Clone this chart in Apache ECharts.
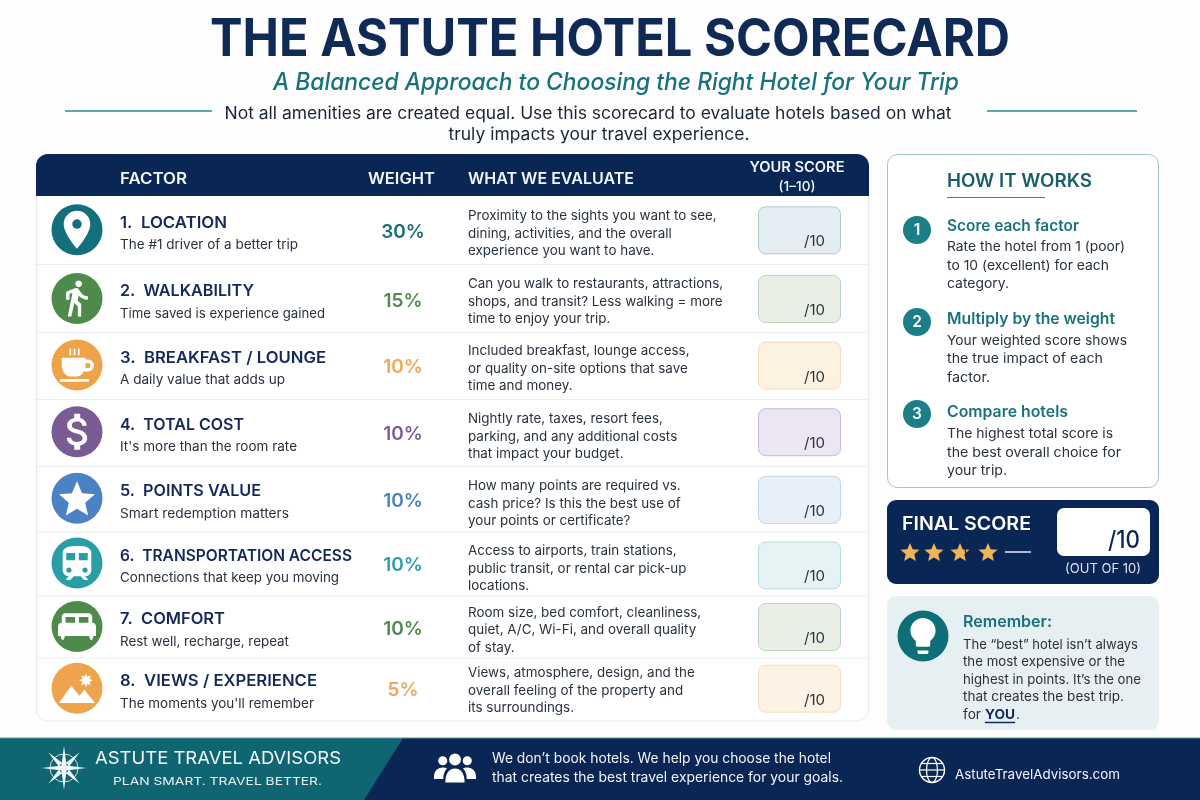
<!DOCTYPE html>
<html><head><meta charset="utf-8">
<style>html,body{margin:0;padding:0;background:#fdfdfe}#c{width:1200px;height:800px}</style>
<script src="https://cdn.jsdelivr.net/npm/echarts@6/dist/echarts.min.js"></script>
</head><body><div id="c"></div>
<script>
// ---------- content ----------
const factorNames = ['1.  LOCATION','2.  WALKABILITY','3.  BREAKFAST / LOUNGE','4.  TOTAL COST','5.  POINTS VALUE','6.  TRANSPORTATION ACCESS','7.  COMFORT','8.  VIEWS / EXPERIENCE'];
const factorNotes = ['The #1 driver of a better trip','Time saved is experience gained','A daily value that adds up',"It's more than the room rate",'Smart redemption matters','Connections that keep you moving','Rest well, recharge, repeat',"The moments you'll remember"];
const weights = [30,15,10,10,10,10,10,5];
const evaluateText = [
 ['Proximity to the sights you want to see,','dining, activities, and the overall','experience you want to have.'],
 ['Can you walk to restaurants, attractions,','shops, and transit? Less walking = more','time to enjoy your trip.'],
 ['Included breakfast, lounge access,','or quality on-site options that save','time and money.'],
 ['Nightly rate, taxes, resort fees,','parking, and any additional costs','that impact your budget.'],
 ['How many points are required vs.','cash price? Is this the best use of','your points or certificate?'],
 ['Access to airports, train stations,','public transit, or rental car pick-up','locations.'],
 ['Room size, bed comfort, cleanliness,','quiet, A/C, Wi-Fi, and overall quality','of stay.'],
 ['Views, atmosphere, design, and the','overall feeling of the property and','its surroundings.']];
const steps = [
 {h:'Score each factor',l:['Rate the hotel from 1 (poor)','to 10 (excellent) for each','category.']},
 {h:'Multiply by the weight',l:['Your weighted score shows','the true impact of each','factor.']},
 {h:'Compare hotels',l:['The highest total score is','the best overall choice for','your trip.']}];
const rememberLines = ['The “best” hotel isn’t always','the most expensive or the','highest in points. It’s the one','that creates the best trip.'];

// ---------- styling / layout (not data) ----------
const FF = 'Inter', NAVY='#0a2655', INK='#14295a', TEAL='#17727c', BODY='#28313e';
const rowColors = ['#146f7c','#4d8a4c','#eea349','#7a5c94','#4a82c4','#2a9ea6','#4d8a4c','#eda44c'];
const weightColors = ['#1a6b78','#4f8a4e','#f0a95a','#7a5f96','#4a82bd','#2f9fa8','#4f8a4e','#e9a95c'];
const boxFill = ['#e4eef2','#e8f0e6','#fdf2e1','#ebe6f1','#e8eff8','#e6f3f4','#e8f0e6','#fdf2e3'];
const boxLine = ['#a9c9d0','#bcd3bb','#f1dcbb','#c7bbd6','#c3d5e9','#b7dcdf','#bcd3bb','#f2dfc2'];
const rowNudge = [1,4,5,6,7,6,4,0];
const evalNudge = [0.5,0,0,1.5,2,2.5,0,-1];
const boxNudge = [0.5,0.5,0.5,0.5,1.5,2.5,0.5,0.5];
const titleW = [107,134,206,124,141,232,105,197];
const noteW = [178,205,165,177,169,219,169,194];
const evalScale = 1.018;
const icons = {
 pin:'M12 2C8.13 2 5 5.13 5 9c0 5.25 7 13 7 13s7-7.75 7-13c0-3.87-3.13-7-7-7zm0 9.5a2.5 2.5 0 0 1 0-5 2.5 2.5 0 0 1 0 5z',
 walk:'M13.5 5.5c1.1 0 2-.9 2-2s-.9-2-2-2-2 .9-2 2 .9 2 2 2zM9.8 8.9L7 23h2.1l1.8-8 2.1 2v6h2v-7.5l-2.1-2 .6-3C14.8 12 16.8 13 19 13v-2c-1.9 0-3.5-1-4.3-2.4l-1-1.6c-.4-.6-1-1-1.7-1-.3 0-.5.1-.8.1L6 8.3V13h2V9.6l1.8-.7',
 cup:'M4 8h14v1h1.5a3 3 0 0 1 0 7H17c-1 2-2.6 3-4.5 3h-3C6.5 19 4 16 4 12zM18 11v3h1.4a1.5 1.5 0 0 0 0-3zM3 20.5h17V22H3zM8.5 2.5h1v4h-1zM11 2.5h1v4h-1zM13.5 2.5h1v4h-1z',
 dollar:'M11.8 10.9c-2.27-.59-3-1.2-3-2.15 0-1.09 1.01-1.85 2.7-1.85 1.78 0 2.44.85 2.5 2.1h2.21c-.07-1.72-1.12-3.3-3.21-3.81V3h-3v2.16c-1.94.42-3.5 1.68-3.5 3.61 0 2.31 1.91 3.46 4.7 4.13 2.5.6 3 1.48 3 2.41 0 .69-.49 1.79-2.7 1.79-2.06 0-2.87-.92-2.98-2.1h-2.2c.12 2.19 1.76 3.42 3.68 3.83V21h3v-2.15c1.95-.37 3.5-1.5 3.5-3.55 0-2.84-2.43-3.81-4.7-4.4z',
 star:'M12 17.27L18.18 21l-1.64-7.03L22 9.24l-7.19-.61L12 2 9.19 8.63 2 9.24l5.46 4.73L5.82 21z',
 train:'M12 2c-4 0-8 .5-8 4v9.5C4 17.43 5.57 19 7.5 19L6 20.5v.5h2.23l2-2H14l2 2h2v-.5L16.5 19c1.93 0 3.5-1.57 3.5-3.5V6c0-3.5-3.58-4-8-4zM7.5 17c-.83 0-1.5-.67-1.5-1.5S6.67 14 7.5 14s1.5.67 1.5 1.5S8.33 17 7.5 17zm3.5-7H6V6h5v4zm2 0V6h5v4h-5zm3.5 7c-.83 0-1.5-.67-1.5-1.5s.67-1.5 1.5-1.5 1.5.67 1.5 1.5-.67 1.5-1.5 1.5z',
 bed:'M20 10V7c0-1.1-.9-2-2-2H6c-1.1 0-2 .9-2 2v3c-1.1 0-2 .9-2 2v5h1.33L4 19h1l.67-2h12.67l.66 2h1l.67-2H22v-5c0-1.1-.9-2-2-2zm-9 0H6V7h5v3zm7 0h-5V7h5v3z',
 view:'M8.5 9.5L1 20h22l-6.5-8-3 3.6zM17.5 2l.8 2 2.1-.7-.7 2.1 2 .8-2 .8.7 2.1-2.1-.7-.8 2-.8-2-2.1.7.7-2.1-2-.8 2-.8-.7-2.1 2.1.7z',
 bulb:'M9 21c0 .55.45 1 1 1h4c.55 0 1-.45 1-1v-1H9v1zm3-19C8.14 2 5 5.14 5 9c0 2.38 1.19 4.47 3 5.74V17c0 .55.45 1 1 1h6c.55 0 1-.45 1-1v-2.26c1.81-1.27 3-3.36 3-5.74 0-3.86-3.14-7-7-7z',
 people:'M5 5a2.6 2.6 0 1 0 .01 0zM19 5a2.6 2.6 0 1 0 .01 0zM12 3.5a3.4 3.4 0 1 0 .01 0zM0 17c0-3.5 2-5.5 5-5.5 1 0 1.7.2 2.4.6C6 13.5 5.3 15.5 5.3 18H0zM24 17c0-3.5-2-5.5-5-5.5-1 0-1.7.2-2.4.6 1.4 1.4 2.1 3.4 2.1 5.9H24zM6.5 20c0-5 2-8 5.5-8s5.5 3 5.5 8z',
 compass:'M12 0l1.4 10.6L24 12l-10.6 1.4L12 24l-1.4-10.6L0 12l10.6-1.4zM3.5 3.5l7.5 5.6-1.9 1.9zM20.5 3.5l-5.6 7.5-1.9-1.9zM20.5 20.5l-7.5-5.6 1.9-1.9zM3.5 20.5l5.6-7.5 1.9 1.9z'
};
const rowIcons = [['pin',38,38],['walk',32,36],['cup',34,34],['dollar',36,36],['star',36,36],['train',32,34],['bed',38,38],['view',36,34]];

const mctx = document.createElement('canvas').getContext('2d');
function fitScale(text,size,weight,style,target){
  if(!target) return 1;
  mctx.font = `${style||'normal'} ${weight||400} ${size}px ${FF}`;
  return target/mctx.measureText(text).width;
}
function T(x,y,text,size,color,o){
  o=o||{};
  const sx = o.sx || fitScale(text,size,o.weight,o.style,o.w);
  return {type:'text',x,y:y+2,scaleX:sx,scaleY:1,silent:true,
    style:{text,fill:color,fontSize:size,fontWeight:o.weight||400,fontStyle:o.style||'normal',fontFamily:FF,
      align:o.align||'left',verticalAlign:'middle',textAlign:o.align||'left',textVerticalAlign:'middle'}};
}
function R(x,y,w,h,fill,o){o=o||{};return {type:'rect',silent:true,shape:{x,y,width:w,height:h,r:o.r||0},style:{fill,stroke:o.stroke,lineWidth:o.lw||1}};}
function C(cx,cy,r,fill){return {type:'circle',silent:true,shape:{cx,cy,r},style:{fill}};}
function L(x1,y1,x2,y2,stroke,lw){return {type:'line',silent:true,shape:{x1,y1,x2,y2},style:{stroke,lineWidth:lw||1}};}
function P(name,cx,cy,w,h,fill){return {type:'path',silent:true,shape:{pathData:icons[name],layout:'center',x:cx-w/2,y:cy-h/2,width:w,height:h},style:{fill}};}

// ---------- static panels ----------
const chrome = [], chromeIcons = [];
chrome.push(T(610,38,'THE ASTUTE HOTEL SCORECARD',52,'#0f2a55',{weight:700,align:'center',w:800}));
chrome.push(T(616,81,'A Balanced Approach to Choosing the Right Hotel for Your Trip',24,'#17727c',{style:'italic',weight:500,align:'center',w:686}));
chrome.push(L(65,111,212,111,'#2a8a92',1.5),L(987,111,1137,111,'#2a8a92',1.5));
chrome.push(T(588,112,'Not all amenities are created equal. Use this scorecard to evaluate hotels based on what',17,'#1a2533',{align:'center',w:727}));
chrome.push(T(599,133,'truly impacts your travel experience.',17,'#1a2533',{align:'center',w:301}));

// table card
chrome.push(R(36.5,154.5,832,566.5,'#ffffff',{r:12,stroke:'#e6e9ee'}));
chrome.push(R(36,154,833,42,NAVY,{r:[12,12,0,0]}));
chrome.push(T(120,177,'FACTOR',15.5,'#f3f6fa',{weight:600,w:67}));
chrome.push(T(368,177,'WEIGHT',15.5,'#f3f6fa',{weight:600,w:67}));
chrome.push(T(468,177,'WHAT WE EVALUATE',15.5,'#f3f6fa',{weight:600,w:166}));
chrome.push(T(797,166,'YOUR SCORE',14,'#f3f6fa',{weight:600,align:'center',w:95}));
chrome.push(T(797,185,'(1–10)',13.5,'#f3f6fa',{weight:500,align:'center',w:37}));
[264.5,332.5,399.5,466.5,532,596,658].forEach(y=>chrome.push(L(37,y,868,y,'#eceef2',1)));

// how it works
chrome.push(R(887.5,154.5,271,333,'#ffffff',{r:10,stroke:'#9cc6cb'}));
chrome.push(T(947,180,'HOW IT WORKS',18,'#17606b',{weight:600,w:145}));
chrome.push(L(947,197.5,1045,197.5,'#2a8a92',1));
const stepCirc=[230,322,414], stepHead=[224,317,410], stepLines=[[245,264,282],[339,357,376],[432,451,469]];
const stepHW=[132,168,121], stepLW=[[178,162,62],[180,156,43],[166,174,60]];
steps.forEach((s,i)=>{
  chrome.push(C(917,stepCirc[i],14,'#1c7f87'));
  chrome.push(T(917,stepCirc[i]-1.5,String(i+1),15.5,'#ffffff',{weight:600,align:'center'}));
  chrome.push(T(947,stepHead[i],s.h,15.5,'#17727c',{weight:600,w:stepHW[i]}));
  s.l.forEach((t,j)=>chrome.push(T(947,stepLines[i][j],t,13.5,BODY,{w:stepLW[i][j]})));
});

// final score
chrome.push(R(887,500,272,84,NAVY,{r:9}));
chrome.push(T(902,522,'FINAL SCORE',19,'#ffffff',{weight:600,w:129}));
[910,934,960,988].forEach(x=>chromeIcons.push(P('star',x,552,19,19,'#edb458')));
chromeIcons.push(L(965,549,967,558,NAVY,1.2));
chrome.push(L(1005,552,1031,552,'#e8ecf2',1.5));
chrome.push(R(1057,508,93,48,'#ffffff',{r:7}));
chrome.push(T(1140,539,'/10',24,NAVY,{align:'right',weight:500,w:32}));
chrome.push(T(1103,567,'(OUT OF 10)',13,'#dfe5ee',{align:'center',w:76}));

// remember
chrome.push(R(887,596,272,134,'#e6f0f3',{r:9}));
chrome.push(C(923,636,25.5,'#0f6f78'));
chromeIcons.push(P('bulb',923,636,36,36,'#ffffff'));
chrome.push(T(963,620,'Remember:',16,'#17727c',{weight:600,w:89}));
const remY=[643,660,678,695], remW=[175,162,178,161];
rememberLines.forEach((t,i)=>chrome.push(T(963,remY[i],t,13.5,BODY,{w:remW[i]})));
chrome.push(T(963,713,'for',13.5,BODY,{w:18}));
chrome.push(T(985,713,'YOU',13.5,'#14295a',{weight:700,w:30}));
chrome.push(T(1016,713,'.',13.5,BODY));
chrome.push(L(985,722.5,1015,722.5,'#14295a',1.5));

// footer
chrome.push(R(0,738,1200,62,NAVY));
chrome.push({type:'polygon',silent:true,shape:{points:[[0,738],[403,738],[364,800],[0,800]]},style:{fill:'#0f6672'}});
chrome.push(L(0,738,1200,738,'#5f97a3',1));
chromeIcons.push(P('compass',64,768,44,44,'#f2f7f8'));
chrome.push({type:'circle',silent:true,shape:{cx:64,cy:768,r:14},style:{fill:'none',stroke:'#cfe0e3',lineWidth:1}});
chrome.push(T(95,757,'ASTUTE TRAVEL ADVISORS',17,'#f3f7f8',{w:246}));
chrome.push(T(113,780,'PLAN SMART. TRAVEL BETTER.',11,'#e6eef0',{weight:400,w:209}));
chromeIcons.push(P('people',455,768,42,30,'#ffffff'));
chrome.push(T(492,757,'We don’t book hotels. We help you choose the hotel',14,'#f2f5f8',{w:339}));
chrome.push(T(492,776,'that creates the best travel experience for your goals.',14,'#f2f5f8',{w:351}));
chrome.push({type:'circle',silent:true,shape:{cx:932,cy:770,r:12.5},style:{fill:'none',stroke:'#ffffff',lineWidth:1.4}});
chrome.push({type:'ellipse',silent:true,shape:{cx:932,cy:770,rx:5.5,ry:12.5},style:{fill:'none',stroke:'#ffffff',lineWidth:1.2}});
chrome.push(L(919.5,770,944.5,770,'#ffffff',1.2),L(921.5,763.5,942.5,763.5,'#ffffff',1.2),L(921.5,776.5,942.5,776.5,'#ffffff',1.2));
chrome.push(T(955,773,'AstuteTravelAdvisors.com',13.5,'#f2f5f8',{w:165}));

// ---------- rows: one datum per factor on a hidden category axis ----------
function renderRow(params,api){
  const i = api.value(0);
  const c = api.coord([0,i]);
  const y = c[1]+rowNudge[i];
  const kids = [];
  const ic = rowIcons[i];
  kids.push(C(77,y,25.5,rowColors[i]));
  kids.push(P(ic[0],77,y,ic[1],ic[2],'#ffffff'));
  kids.push(T(120,y-9,factorNames[i],16,INK,{weight:600,w:titleW[i]}));
  kids.push(T(120,y+13.5,factorNotes[i],13,BODY,{w:noteW[i]}));
  kids.push(T(403,y+0.5,api.value(1)+'%',19,weightColors[i],{weight:600,align:'center'}));
  const ey=[-16,1.5,19];
  evaluateText[i].forEach((t,j)=>kids.push(T(468,y+ey[j]+evalNudge[i],t,13.2,BODY,{sx:evalScale})));
  const by=y+boxNudge[i];
  kids.push(R(758.5,by-23.5,82,47,boxFill[i],{r:7,stroke:boxLine[i]}));
  kids.push(T(825,by+9.5,'/10',15,'#2a3340',{align:'right'}));
  return {type:'group',children:kids};
}

const chart = echarts.init(document.getElementById('c'),null,{renderer:'canvas',width:1200,height:800});
chart.setOption({
  animation:false,
  backgroundColor:'#fdfdfe',
  grid:{left:36,top:196,width:833,height:525},
  xAxis:{type:'value',show:false,min:0,max:1},
  yAxis:{type:'category',inverse:true,show:false,data:factorNames},
  graphic:{elements:chrome},
  series:[
   {type:'custom',coordinateSystem:'cartesian2d',clip:false,silent:true,z:5,
    encode:{x:-1,y:0},
    data:weights.map((w,i)=>[i,w]),
    renderItem:renderRow},
   {type:'custom',coordinateSystem:'none',silent:true,z:6,
    data:[[0]],
    renderItem:()=>({type:'group',children:chromeIcons})}
  ]
});
</script></body></html>
